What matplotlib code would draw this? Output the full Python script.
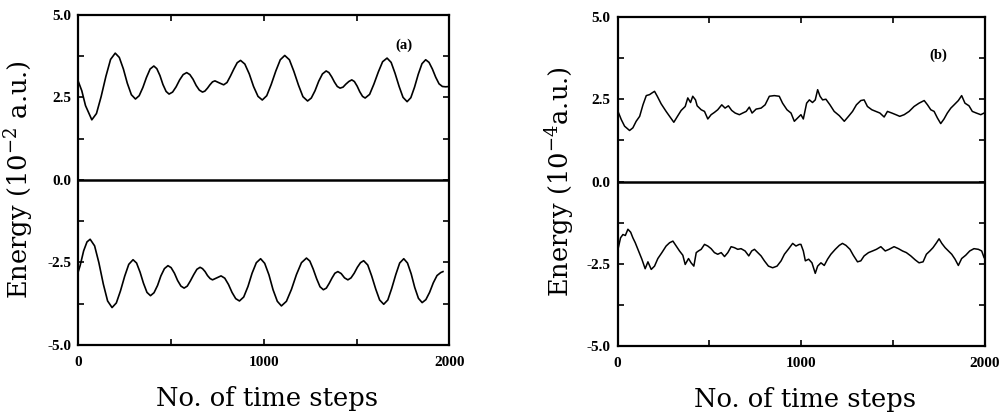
import matplotlib
matplotlib.use("Agg")
import matplotlib.pyplot as plt
from matplotlib.ticker import MultipleLocator, FixedLocator

# ---------------- data ----------------
# Panel (a): energy in units of 1e-2 a.u.
a_up_x = [0, 20, 40, 74, 99, 124, 150, 175, 200, 222, 244, 265, 287, 309, 329, 349, 368, 388,
          408, 424, 441, 457, 474, 490, 509, 528, 547, 566, 585, 602, 619, 636, 653, 670, 683,
          697, 710, 724, 737, 760, 784, 802, 820, 839, 857, 875, 898, 922, 945, 969, 992, 1016,
          1040, 1065, 1089, 1113, 1138, 1162, 1187, 1211, 1236, 1256, 1276, 1296, 1316, 1336,
          1351, 1366, 1381, 1396, 1411, 1427, 1442, 1458, 1474, 1488, 1503, 1517, 1532, 1546,
          1570, 1593, 1617, 1640, 1664, 1686, 1707, 1729, 1750, 1772, 1792, 1812, 1832, 1852,
          1872, 1890, 1908, 1926, 1944, 1962, 1980, 2000]
a_up_y = [3.00, 2.70, 2.25, 1.82, 2.01, 2.52, 3.14, 3.65, 3.84, 3.71, 3.36, 2.93, 2.58, 2.45,
          2.55, 2.80, 3.10, 3.36, 3.45, 3.37, 3.16, 2.89, 2.68, 2.60, 2.66, 2.82, 3.03, 3.19,
          3.25, 3.19, 3.05, 2.86, 2.72, 2.66, 2.69, 2.78, 2.88, 2.97, 3.00, 2.94, 2.88, 2.95,
          3.14, 3.36, 3.55, 3.62, 3.51, 3.21, 2.83, 2.53, 2.42, 2.55, 2.89, 3.30, 3.64, 3.77,
          3.64, 3.29, 2.87, 2.52, 2.39, 2.48, 2.70, 2.99, 3.21, 3.30, 3.25, 3.12, 2.96, 2.83,
          2.78, 2.81, 2.90, 2.98, 3.03, 2.98, 2.84, 2.67, 2.53, 2.48, 2.59, 2.90, 3.27, 3.58,
          3.69, 3.56, 3.23, 2.83, 2.50, 2.37, 2.49, 2.81, 3.20, 3.52, 3.64, 3.56, 3.36, 3.11,
          2.91, 2.83, 2.82, 2.83]

a_lo_x = [0, 11, 30, 48, 65, 89, 112, 136, 159, 183, 206, 228, 251, 273, 296, 315, 334, 352,
          371, 390, 409, 428, 446, 465, 484, 501, 519, 536, 554, 571, 588, 605, 623, 640, 657,
          670, 684, 697, 711, 724, 747, 770, 790, 810, 829, 849, 869, 892, 915, 937, 960, 983,
          1005, 1028, 1050, 1073, 1095, 1122, 1149, 1176, 1203, 1230, 1248, 1266, 1285, 1303,
          1321, 1337, 1352, 1368, 1383, 1399, 1417, 1435, 1453, 1470, 1487, 1504, 1521, 1538,
          1560, 1581, 1603, 1624, 1646, 1668, 1689, 1711, 1732, 1754, 1774, 1794, 1813, 1833,
          1853, 1873, 1893, 1913, 1933, 1953, 1965]
a_lo_y = [-2.80, -2.60, -2.15, -1.88, -1.80, -2.00, -2.51, -3.16, -3.67, -3.87, -3.73, -3.37,
          -2.92, -2.56, -2.42, -2.52, -2.80, -3.13, -3.41, -3.51, -3.42, -3.20, -2.91, -2.69,
          -2.60, -2.66, -2.83, -3.05, -3.22, -3.28, -3.22, -3.06, -2.87, -2.71, -2.65, -2.69,
          -2.78, -2.90, -2.99, -3.03, -2.97, -2.91, -2.98, -3.17, -3.41, -3.60, -3.67, -3.55,
          -3.23, -2.83, -2.51, -2.39, -2.53, -2.88, -3.33, -3.68, -3.82, -3.68, -3.32, -2.87,
          -2.51, -2.37, -2.46, -2.70, -3.00, -3.24, -3.33, -3.28, -3.14, -2.97, -2.83, -2.78,
          -2.84, -2.97, -3.03, -2.97, -2.83, -2.65, -2.51, -2.45, -2.58, -2.91, -3.31, -3.64,
          -3.77, -3.64, -3.29, -2.87, -2.52, -2.39, -2.52, -2.85, -3.26, -3.59, -3.72, -3.63,
          -3.41, -3.12, -2.90, -2.81, -2.78]

# Panel (b): energy in units of 1e-4 a.u.
b_up_x = [2, 20, 38, 65, 83, 101, 120, 138, 156, 174, 187, 201, 216, 237, 264, 283, 306, 328,
          346, 368, 382, 397, 409, 424, 433, 455, 473, 491, 509, 527, 545, 567, 585, 603, 621,
          640, 663, 681, 700, 717, 732, 754, 781, 803, 826, 853, 880, 898, 922, 944, 962, 980,
          998, 1011, 1029, 1044, 1061, 1076, 1089, 1102, 1116, 1134, 1156, 1179, 1207, 1234,
          1257, 1279, 1300, 1324, 1342, 1360, 1384, 1406, 1428, 1451, 1469, 1493, 1515, 1536,
          1560, 1587, 1614, 1641, 1669, 1687, 1705, 1723, 1741, 1759, 1777, 1795, 1814, 1832,
          1855, 1873, 1891, 1913, 1931, 1953, 1977, 1995]
b_up_y = [2.13, 1.88, 1.68, 1.55, 1.63, 1.83, 1.98, 2.33, 2.61, 2.64, 2.69, 2.74, 2.59, 2.36,
          2.13, 1.98, 1.80, 2.00, 2.16, 2.28, 2.54, 2.40, 2.59, 2.48, 2.30, 2.18, 2.13, 1.90,
          2.03, 2.10, 2.18, 2.33, 2.23, 2.30, 2.16, 2.08, 2.03, 2.08, 2.13, 2.26, 2.08, 2.20,
          2.23, 2.33, 2.59, 2.61, 2.59, 2.38, 2.18, 2.08, 1.83, 1.93, 2.03, 1.90, 2.38, 2.48,
          2.40, 2.48, 2.79, 2.59, 2.48, 2.50, 2.33, 2.13, 2.00, 1.83, 1.98, 2.13, 2.33, 2.46,
          2.48, 2.28, 2.18, 2.13, 2.08, 1.96, 2.13, 2.08, 2.03, 1.98, 2.03, 2.13, 2.28, 2.38,
          2.46, 2.33, 2.18, 2.13, 1.93, 1.76, 1.90, 2.08, 2.23, 2.33, 2.46, 2.61, 2.38, 2.30,
          2.13, 2.08, 2.03, 2.08]

b_lo_x = [2, 16, 29, 42, 56, 71, 83, 96, 114, 132, 150, 165, 183, 201, 219, 241, 264, 283,
          301, 319, 337, 355, 368, 386, 400, 415, 428, 440, 455, 473, 491, 509, 527, 545, 564,
          582, 600, 618, 636, 654, 672, 694, 714, 730, 745, 763, 781, 799, 821, 844, 868, 890,
          908, 929, 953, 971, 989, 998, 1011, 1022, 1040, 1058, 1076, 1089, 1107, 1125, 1143,
          1161, 1185, 1207, 1224, 1243, 1265, 1283, 1306, 1324, 1342, 1366, 1388, 1409, 1433,
          1457, 1478, 1505, 1529, 1551, 1572, 1596, 1620, 1641, 1663, 1681, 1700, 1717, 1736,
          1750, 1765, 1783, 1801, 1819, 1837, 1855, 1873, 1895, 1917, 1940, 1964, 1982, 1995]
b_lo_y = [-2.06, -1.71, -1.61, -1.64, -1.45, -1.54, -1.71, -1.86, -2.11, -2.36, -2.65, -2.44,
          -2.67, -2.57, -2.34, -2.16, -1.96, -1.86, -1.81, -1.96, -2.11, -2.24, -2.52, -2.34,
          -2.47, -2.57, -2.16, -2.11, -2.06, -1.91, -1.96, -2.04, -2.16, -2.21, -2.16, -2.28,
          -2.16, -1.98, -2.01, -2.06, -2.04, -2.11, -2.26, -2.11, -2.06, -2.16, -2.26, -2.41,
          -2.57, -2.62, -2.57, -2.41, -2.21, -2.06, -1.88, -1.96, -1.91, -1.91, -2.11, -2.41,
          -2.36, -2.47, -2.79, -2.57, -2.47, -2.55, -2.36, -2.21, -2.06, -1.94, -1.88, -1.94,
          -2.06, -2.24, -2.44, -2.41, -2.26, -2.16, -2.11, -2.06, -1.98, -2.11, -2.06, -1.98,
          -2.04, -2.11, -2.16, -2.26, -2.38, -2.47, -2.44, -2.21, -2.11, -2.01, -1.86, -1.74,
          -1.88, -2.01, -2.11, -2.21, -2.36, -2.55, -2.34, -2.24, -2.11, -2.04, -2.06, -2.11,
          -2.31]

x_ticks = [0, 1000, 2000]
y_ticks = [-5.0, -2.5, 0.0, 2.5, 5.0]
y_labels = ["-5.0", "-2.5", "0.0", "2.5", "5.0"]
x_label = "No. of time steps"
y_label_a = r"Energy (10$^{-2}$ a.u.)"
y_label_b = r"Energy (10$^{-4}$a.u.)"
panel_tags = ["(a)", "(b)"]

# ---------------- figure ----------------
plt.rcParams["mathtext.fontset"] = "dejavuserif"
fig = plt.figure(figsize=(10.01, 4.13), dpi=100)
ax_a = fig.add_axes([0.078, 0.165, 0.371, 0.799])
ax_b = fig.add_axes([0.617, 0.162, 0.367, 0.797])

tick_font = dict(family="Liberation Serif", weight="bold", size=11)
label_font = dict(family="DejaVu Serif", size=18.5)

def style(ax, ylab, tag, tagx, tagy):
    ax.set_xlim(0, 2000)
    ax.set_ylim(-5, 5)
    ax.axhline(0, color="black", lw=1.8)
    ax.xaxis.set_major_locator(FixedLocator(x_ticks))
    ax.xaxis.set_minor_locator(MultipleLocator(500))
    ax.yaxis.set_major_locator(FixedLocator(y_ticks))
    ax.yaxis.set_minor_locator(MultipleLocator(1.25))
    ax.set_yticklabels(y_labels, fontdict=tick_font)
    ax.set_xticklabels([str(t) for t in x_ticks], fontdict=tick_font)
    ax.tick_params(which="both", direction="in", top=True, right=True,
                   length=4, width=1.2, color="black")
    ax.tick_params(axis="y", pad=5)
    ax.tick_params(axis="x", pad=8)
    for s in ax.spines.values():
        s.set_linewidth(1.6)
        s.set_color("black")
    ax.set_ylabel(ylab, **label_font)
    ax.yaxis.set_label_coords(-0.112, 0.5)
    ax.set_xlabel(x_label, **label_font)
    ax.xaxis.set_label_coords(0.51, -0.125)
    ax.text(tagx, tagy, tag, family="Liberation Serif", weight="bold",
            size=10.5, ha="center", va="center")

ax_a.plot(a_up_x, a_up_y, color="black", lw=1.2)
ax_a.plot(a_lo_x, a_lo_y, color="black", lw=1.2)
style(ax_a, y_label_a, panel_tags[0], 1756, 4.09)

ax_b.plot(b_up_x, b_up_y, color="black", lw=1.1)
ax_b.plot(b_lo_x, b_lo_y, color="black", lw=1.1)
style(ax_b, y_label_b, panel_tags[1], 1745, 3.85)

fig.savefig("out.png", dpi=100, facecolor="white")
